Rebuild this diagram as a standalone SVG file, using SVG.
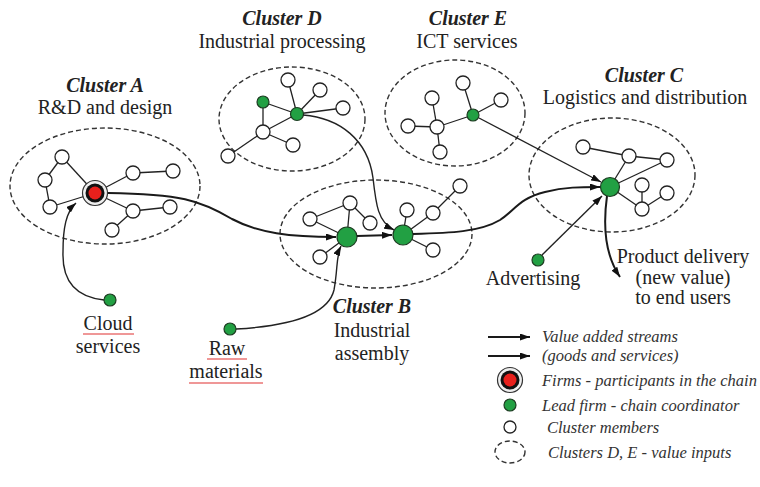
<svg xmlns="http://www.w3.org/2000/svg" width="760" height="487" viewBox="0 0 760 487">
<defs>
<style>
.t{font-family:"Liberation Serif","Times New Roman",serif;fill:#222;text-anchor:middle}
.h{font-size:20px;font-style:italic;font-weight:bold}
.s{font-size:20px}
.l{font-family:"Liberation Serif","Times New Roman",serif;fill:#333;font-size:16.5px;font-style:italic}
.el{fill:none;stroke:#333;stroke-width:1.4;stroke-dasharray:5 3}
.e{stroke:#222;stroke-width:1.3;fill:none}
.w{fill:#fff;stroke:#222;stroke-width:1.3}
.g{fill:#22a043;stroke:#1d3d22;stroke-width:1.2}
.thick{fill:none;stroke:#1a1a1a;stroke-width:2}
.thin{fill:none;stroke:#222;stroke-width:1.4}
.ul{stroke:#e03030;stroke-width:1.2}
</style>
<marker id="ah" viewBox="0 0 10 7" refX="10" refY="3.5" markerWidth="10" markerHeight="7" markerUnits="userSpaceOnUse" orient="auto">
<path d="M0,0 L10,3.5 L0,7 z" fill="#111"/>
</marker>
</defs>
<rect width="760" height="487" fill="#fff"/>

<g id="clusterA">
<ellipse class="el" cx="105" cy="186" rx="95" ry="58"/>
<text class="t h" x="105" y="92">Cluster A</text>
<text class="t s" x="105" y="114">R&amp;D and design</text>
<g class="e">
<line x1="62" y1="157" x2="45" y2="180"/><line x1="45" y1="180" x2="50" y2="207"/>
<line x1="50" y1="207" x2="95" y2="193"/><line x1="62" y1="157" x2="95" y2="193"/>
<line x1="95" y1="193" x2="133" y2="173"/><line x1="133" y1="173" x2="173" y2="171"/>
<line x1="95" y1="193" x2="133" y2="211"/><line x1="133" y1="211" x2="170" y2="207"/>
<line x1="133" y1="211" x2="112" y2="230"/>
</g>
<circle class="w" cx="62" cy="157" r="7"/><circle class="w" cx="45" cy="180" r="7"/>
<circle class="w" cx="50" cy="207" r="7"/><circle class="w" cx="133" cy="173" r="7"/>
<circle class="w" cx="173" cy="171" r="7"/><circle class="w" cx="133" cy="211" r="7"/>
<circle class="w" cx="170" cy="207" r="7"/><circle class="w" cx="112" cy="230" r="7"/>
<g id="firmA">
<circle cx="95" cy="193" r="12.5" fill="#eee" stroke="#333" stroke-width="1.2"/>
<circle cx="95" cy="193" r="9.5" fill="#111"/>
<circle cx="95" cy="193" r="6.5" fill="#e8201c"/>
</g>
</g>

<g id="clusterD">
<ellipse class="el" cx="292" cy="119" rx="73" ry="52"/>
<text class="t h" x="282" y="25">Cluster D</text>
<text class="t s" x="282" y="48">Industrial processing</text>
<g class="e">
<line x1="263" y1="102" x2="297" y2="114"/><line x1="263" y1="102" x2="263" y2="132"/>
<line x1="297" y1="114" x2="288" y2="80"/><line x1="297" y1="114" x2="320" y2="90"/>
<line x1="297" y1="114" x2="343" y2="108"/><line x1="297" y1="114" x2="263" y2="132"/>
<line x1="263" y1="132" x2="293" y2="145"/><line x1="263" y1="132" x2="228" y2="156"/>
</g>
<circle class="w" cx="288" cy="80" r="7"/><circle class="w" cx="320" cy="90" r="7"/>
<circle class="w" cx="343" cy="108" r="7"/><circle class="w" cx="263" cy="132" r="7"/>
<circle class="w" cx="293" cy="145" r="7"/><circle class="w" cx="228" cy="156" r="7"/>
<circle class="g" cx="263" cy="102" r="6"/><circle class="g" cx="297" cy="114" r="6.5"/>
</g>

<g id="clusterE">
<ellipse class="el" cx="455" cy="113" rx="70" ry="53"/>
<text class="t h" x="468" y="25">Cluster E</text>
<text class="t s" x="467" y="48">ICT services</text>
<g class="e">
<line x1="473" y1="115" x2="463" y2="83"/><line x1="473" y1="115" x2="501" y2="100"/>
<line x1="473" y1="115" x2="437" y2="127"/><line x1="437" y1="127" x2="408" y2="126"/>
<line x1="437" y1="127" x2="432" y2="98"/><line x1="437" y1="127" x2="440" y2="152"/>
</g>
<circle class="w" cx="463" cy="83" r="7"/><circle class="w" cx="501" cy="100" r="7"/>
<circle class="w" cx="437" cy="127" r="7"/><circle class="w" cx="408" cy="126" r="7"/>
<circle class="w" cx="432" cy="98" r="7"/><circle class="w" cx="440" cy="152" r="7"/>
<circle class="g" cx="473" cy="115" r="6"/>
</g>

<g id="clusterB">
<ellipse class="el" cx="376" cy="234" rx="96" ry="54"/>
<text class="t h" x="372" y="313">Cluster B</text>
<text class="t s" x="372" y="337">Industrial</text>
<text class="t s" x="372" y="360">assembly</text>
<g class="e">
<line x1="310" y1="219" x2="347" y2="237"/><line x1="310" y1="219" x2="350" y2="203"/>
<line x1="350" y1="203" x2="347" y2="237"/><line x1="350" y1="203" x2="370" y2="223"/>
<line x1="320" y1="257" x2="347" y2="237"/><line x1="403" y1="235" x2="407" y2="210"/>
<line x1="403" y1="235" x2="433" y2="213"/><line x1="433" y1="213" x2="460" y2="186"/>
<line x1="403" y1="235" x2="433" y2="250"/>
</g>
<circle class="w" cx="310" cy="219" r="7"/><circle class="w" cx="350" cy="203" r="7"/>
<circle class="w" cx="370" cy="223" r="7"/><circle class="w" cx="320" cy="257" r="7"/>
<circle class="w" cx="407" cy="210" r="7"/><circle class="w" cx="433" cy="213" r="7"/>
<circle class="w" cx="460" cy="186" r="7"/><circle class="w" cx="433" cy="250" r="7"/>
<circle class="g" cx="347" cy="237" r="10"/><circle class="g" cx="403" cy="235" r="10"/>
</g>

<g id="clusterC">
<ellipse class="el" cx="612" cy="175" rx="83" ry="57"/>
<text class="t h" x="644" y="82">Cluster C</text>
<text class="t s" x="645" y="104">Logistics and distribution</text>
<g class="e">
<line x1="583" y1="147" x2="629" y2="156"/><line x1="629" y1="156" x2="667" y2="160"/>
<line x1="629" y1="156" x2="610" y2="187"/><line x1="610" y1="187" x2="667" y2="160"/>
<line x1="610" y1="187" x2="642" y2="209"/><line x1="642" y1="185" x2="642" y2="209"/>
<line x1="642" y1="209" x2="667" y2="193"/>
</g>
<circle class="w" cx="583" cy="147" r="7"/><circle class="w" cx="629" cy="156" r="7"/>
<circle class="w" cx="667" cy="160" r="7"/><circle class="w" cx="642" cy="185" r="7"/>
<circle class="w" cx="667" cy="193" r="7"/><circle class="w" cx="642" cy="209" r="7"/>
<circle class="g" cx="610" cy="187" r="9.5"/>
</g>

<g id="connectors">
<path class="thick" marker-end="url(#ah)" d="M108,193 C180,194 200,200 232,219 C258,233 290,237 336,237"/>
<path class="thick" marker-end="url(#ah)" d="M357,236 L392,235"/>
<path class="thick" marker-end="url(#ah)" d="M413,234 C450,233 480,232 500,220 C515,210 520,198 545,192 C565,187 580,187 600,187"/>
<path class="thick" marker-end="url(#ah)" d="M607,196 C603,225 605,255 620,277"/>
<path class="thin" marker-end="url(#ah)" d="M104,300 C75,297 62,280 63,252 C63,228 66,212 76,203"/>
<path class="thin" marker-end="url(#ah)" d="M236,329 C290,326 328,315 334,290 C338,268 336,256 341,246"/>
<path class="thin" marker-end="url(#ah)" d="M303,115 C340,118 368,140 373,178 C376,205 378,222 394,230"/>
<path class="thin" marker-end="url(#ah)" d="M479,118 L601,182"/>
<path class="thin" marker-end="url(#ah)" d="M542,255 L602,196"/>
</g>

<g id="cloud">
<circle class="g" cx="110" cy="300" r="6"/>
<text class="t s" x="108" y="330">Cloud</text>
<line class="ul" x1="83" y1="334" x2="134" y2="334"/>
<text class="t s" x="108" y="353">services</text>
</g>
<g id="raw">
<circle class="g" cx="230" cy="329" r="6"/>
<text class="t s" x="227" y="355">Raw</text>
<line class="ul" x1="207" y1="359" x2="247" y2="359"/>
<text class="t s" x="226" y="378">materials</text>
<line class="ul" x1="189" y1="383" x2="263" y2="383"/>
</g>
<g id="advertising">
<circle class="g" cx="538" cy="260" r="6"/>
<text class="t s" x="533" y="285">Advertising</text>
</g>
<g id="delivery">
<text class="t s" x="683" y="263">Product delivery</text>
<text class="t s" x="683" y="284">(new value)</text>
<text class="t s" x="683" y="304">to end users</text>
</g>

<g id="legend">
<path class="thick" marker-end="url(#ah)" d="M488,337 L530,337"/>
<path class="thick" marker-end="url(#ah)" d="M488,356 L530,356"/>
<text class="l" x="542" y="342">Value added streams</text>
<text class="l" x="542" y="361">(goods and services)</text>
<circle cx="510" cy="380" r="12.5" fill="#eee" stroke="#333" stroke-width="1.2"/>
<circle cx="510" cy="380" r="9.5" fill="#111"/>
<circle cx="510" cy="380" r="6.5" fill="#e8201c"/>
<text class="l" x="542" y="386">Firms - participants in the chain</text>
<circle class="g" cx="510" cy="405" r="6"/>
<text class="l" x="542" y="411">Lead firm - chain coordinator</text>
<circle class="w" cx="510" cy="427" r="6"/>
<text class="l" x="547" y="433">Cluster members</text>
<ellipse class="el" cx="510" cy="452" rx="15" ry="11"/>
<text class="l" x="548" y="458">Clusters D, E - value inputs</text>
</g>
</svg>
